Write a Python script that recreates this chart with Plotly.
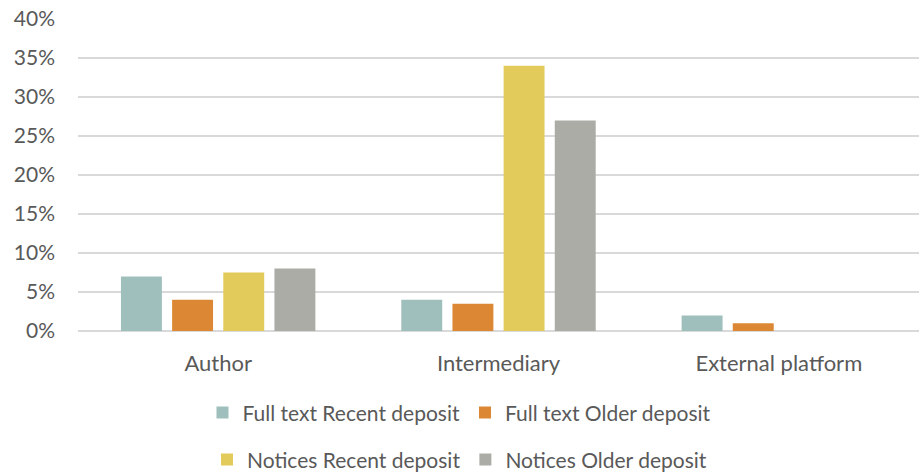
import plotly.graph_objects as go

categories = ["Author", "Intermediary", "External platform"]
series_names = ["Full text Recent deposit", "Full text Older deposit",
                "Notices Recent deposit", "Notices Older deposit"]
full_recent = [0.07, 0.04, 0.02]
full_older = [0.04, 0.035, 0.01]
notices_recent = [0.075, 0.34, 0.0]
notices_older = [0.08, 0.27, 0.0]
y_ticks = [0, 0.05, 0.10, 0.15, 0.20, 0.25, 0.30, 0.35, 0.40]

colors = ["#9FBFBD", "#DC8733", "#E3CB5B", "#ACACA7"]
values = [full_recent, full_older, notices_recent, notices_older]
legends = ["legend", "legend", "legend2", "legend2"]

fig = go.Figure()
for name, vals, col, lg in zip(series_names, values, colors, legends):
    fig.add_trace(go.Bar(x=categories, y=vals, name=name, marker_color=col,
                         marker_line_width=0, legend=lg))

font_family = "Lato, 'Open Sans', sans-serif"
fig.update_layout(
    width=919, height=474,
    margin=dict(l=78, r=0, t=19, b=143),
    plot_bgcolor="white", paper_bgcolor="white",
    barmode="group", bargap=0.27, bargroupgap=0.2,
    font=dict(family=font_family, size=21, color="#595959"),
    legend=dict(orientation="h", xref="container", x=0.5, xanchor="center",
                yref="container", y=0.129, yanchor="middle",
                font=dict(size=21, color="#595959"), itemwidth=30,
                tracegroupgap=0),
    legend2=dict(orientation="h", xref="container", x=0.5, xanchor="center",
                 yref="container", y=0.03, yanchor="middle",
                 font=dict(size=21, color="#595959"), itemwidth=30,
                 tracegroupgap=0),
    showlegend=True,
)
fig.update_yaxes(range=[0, 0.40], tickvals=y_ticks, tickformat=".0%",
                 showgrid=True, gridcolor="#D9D9D9", gridwidth=1.5,
                 zeroline=True, zerolinecolor="#D9D9D9", zerolinewidth=1.5,
                 showline=False, ticks="", ticklabelstandoff=22,
                 tickfont=dict(size=21, color="#595959"))
fig.update_xaxes(showgrid=False, showline=False, ticks="",
                 ticklabelstandoff=17,
                 tickfont=dict(size=22, color="#595959"))

fig.write_html("out.html", config={"displayModeBar": False},
               post_script="document.body.style.margin='0';document.body.style.overflow='hidden';")
